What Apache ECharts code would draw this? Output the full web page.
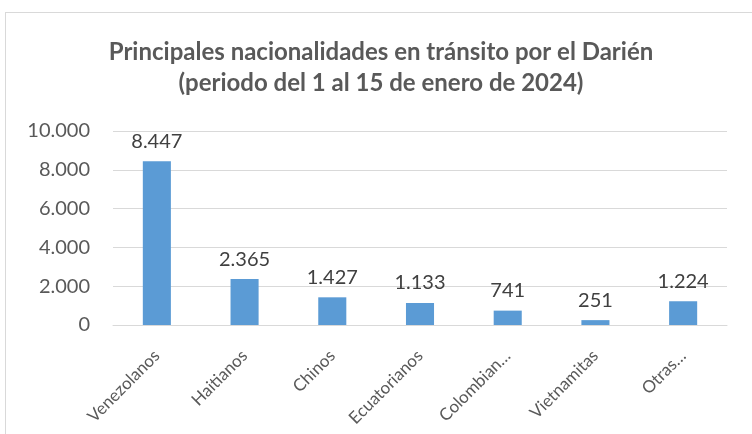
<!DOCTYPE html>
<html>
<head>
<meta charset="utf-8">
<script src="https://cdn.jsdelivr.net/npm/echarts@6/dist/echarts.min.js"></script>
<style>
  html, body { margin: 0; padding: 0; background: #fff; }
  #frame {
    position: absolute; left: 5px; top: 12px; width: 760px; height: 440px;
    border: 1px solid #d9d9d9; box-sizing: border-box;
  }
  #chart { position: absolute; left: 0; top: 0; width: 752px; height: 434px; }
</style>
</head>
<body>
<div id="frame"></div>
<div id="chart"></div>
<script>
// datos
const categories = ['Venezolanos', 'Haitianos', 'Chinos', 'Ecuatorianos', 'Colombian…', 'Vietnamitas', 'Otras…'];
const values = [8447, 2365, 1427, 1133, 741, 251, 1224];

const fontFam = 'Lato, "Open Sans", sans-serif';
const fmt = v => String(v).replace(/\B(?=(\d{3})+(?!\d))/g, '.');

const chart = echarts.init(document.getElementById('chart'));
chart.setOption({
    animation: false,
    title: {
        text: 'Principales nacionalidades en tránsito por el Darién\n(periodo del 1 al 15 de enero de 2024)',
        left: 376,
        textAlign: 'center',
        top: 32,
        textStyle: {
            fontFamily: fontFam,
            fontSize: 24,
            fontWeight: 'bold',
            color: '#595959',
            lineHeight: 31
        }
    },
    grid: {
        left: 113,
        right: 25,
        top: 131,
        bottom: 109
    },
    xAxis: {
        type: 'category',
        data: categories,
        axisTick: { show: false },
        axisLine: { lineStyle: { color: '#d9d9d9', width: 1 } },
        axisLabel: {
            rotate: 45,
            interval: 0,
            margin: 28,
            fontFamily: fontFam,
            fontSize: 17,
            color: '#595959'
        }
    },
    yAxis: {
        type: 'value',
        min: 0,
        max: 10000,
        interval: 2000,
        axisLine: { show: false },
        axisTick: { show: false },
        splitLine: { lineStyle: { color: '#d9d9d9', width: 1 } },
        axisLabel: {
            formatter: fmt,
            margin: 23,
            fontFamily: fontFam,
            fontSize: 20,
            color: '#595959'
        }
    },
    series: [{
        type: 'bar',
        data: values,
        barWidth: '32%',
        itemStyle: { color: '#5B9BD5' },
        label: {
            show: true,
            position: 'top',
            distance: 10,
            formatter: p => fmt(p.value),
            fontFamily: fontFam,
            fontSize: 20,
            color: '#404040'
        }
    }]
});
</script>
</body>
</html>
